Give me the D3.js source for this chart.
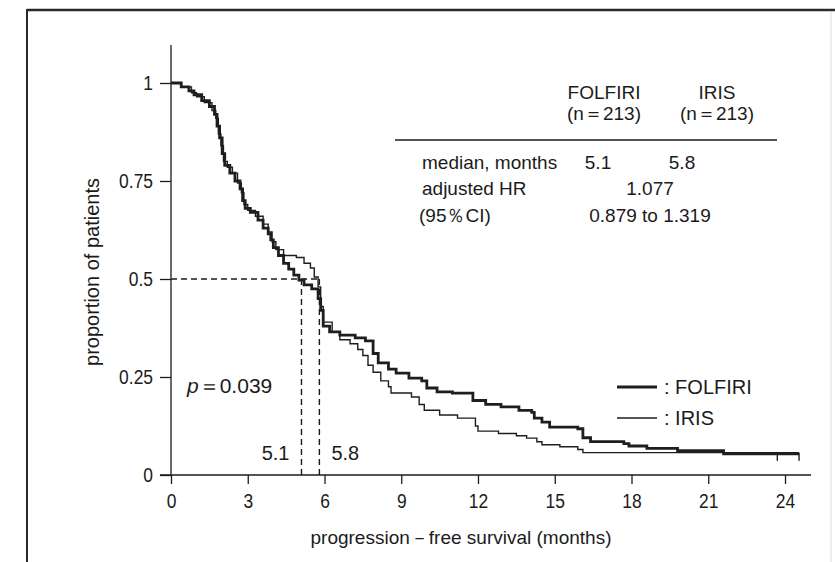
<!DOCTYPE html>
<html>
<head>
<meta charset="utf-8">
<script src="https://cdn.jsdelivr.net/npm/d3@7"></script>
<style>
  body { margin: 0; background: #fff; }
  svg { display: block; }
  text { font-family: "Liberation Sans", Arial, sans-serif; fill: #1b1b1b; }
</style>
</head>
<body>
<svg class="canvas"></svg>
<script>
// Kaplan-Meier steps (months, proportion)
const folfiriTime = [0, 0.4, 0.7, 0.9, 1.2, 1.5, 1.7, 1.8, 1.9, 2.0, 2.1, 2.3, 2.5, 2.7, 2.8, 2.9, 3.1, 3.4, 3.6, 3.8, 3.9, 4.0, 4.2, 4.4, 4.6, 4.8, 5.0, 5.2, 5.5, 5.75, 5.85, 5.95, 6.2, 6.6, 7.2, 7.6, 7.9, 8.1, 8.5, 8.8, 9.3, 9.8, 10.0, 10.4, 11.0, 11.8, 12.3, 12.9, 13.6, 14.1, 14.2, 14.5, 14.8, 15.9, 16.1, 16.4, 17.7, 17.9, 18.6, 19.8, 21.6, 24.55];
const folfiriSurv = [1, 0.99, 0.98, 0.97, 0.955, 0.94, 0.92, 0.89, 0.86, 0.82, 0.79, 0.77, 0.75, 0.73, 0.70, 0.68, 0.67, 0.65, 0.63, 0.615, 0.60, 0.58, 0.56, 0.54, 0.525, 0.51, 0.497, 0.485, 0.475, 0.45, 0.42, 0.38, 0.365, 0.357, 0.35, 0.342, 0.31, 0.286, 0.27, 0.26, 0.247, 0.24, 0.222, 0.212, 0.209, 0.19, 0.18, 0.174, 0.165, 0.16, 0.145, 0.135, 0.122, 0.118, 0.095, 0.085, 0.08, 0.074, 0.068, 0.062, 0.054, 0.054];

const irisTime = [0, 0.4, 0.8, 1.0, 1.3, 1.6, 1.75, 1.85, 1.95, 2.05, 2.2, 2.4, 2.6, 2.75, 2.85, 3.0, 3.3, 3.6, 3.8, 3.95, 4.1, 4.4, 4.9, 5.2, 5.45, 5.6, 5.75, 5.85, 5.95, 6.3, 6.6, 7.0, 7.3, 7.5, 7.7, 7.9, 8.2, 8.5, 8.6, 9.4, 9.7, 9.9, 10.5, 11.2, 11.9, 12.0, 12.8, 13.5, 13.9, 14.3, 14.5, 15.2, 15.9, 16.1, 24.55];
const irisSurv = [1, 0.99, 0.975, 0.965, 0.95, 0.93, 0.91, 0.87, 0.84, 0.80, 0.785, 0.77, 0.745, 0.72, 0.69, 0.675, 0.66, 0.64, 0.62, 0.595, 0.575, 0.56, 0.555, 0.54, 0.528, 0.505, 0.48, 0.43, 0.39, 0.365, 0.345, 0.335, 0.32, 0.305, 0.28, 0.262, 0.24, 0.225, 0.209, 0.199, 0.18, 0.165, 0.153, 0.145, 0.125, 0.112, 0.106, 0.1, 0.094, 0.085, 0.077, 0.072, 0.065, 0.057, 0.057];

const censorTimes = [23.7, 24.55];
const medians = [5.1, 5.8];
const xTicks = [0, 3, 6, 9, 12, 15, 18, 21, 24];
const yTicks = [0, 0.25, 0.5, 0.75, 1];

const w = 835;
const h = 562;
const squeeze = 0.83; // the printed digits are condensed

const svg = d3.select("svg.canvas")
    .attr("width", w)
    .attr("height", h);

// frame of the scanned figure
svg.append("line").attr("x1", 27).attr("x2", 835).attr("y1", 10).attr("y2", 10)
    .attr("stroke", "#2a2a2a").attr("stroke-width", 2.5);
svg.append("line").attr("x1", 27).attr("x2", 27).attr("y1", 9).attr("y2", 562)
    .attr("stroke", "#2a2a2a").attr("stroke-width", 2);
svg.append("line").attr("x1", 831).attr("x2", 831).attr("y1", 12).attr("y2", 562)
    .attr("stroke", "#e6e6e6").attr("stroke-width", 1.5);

const xScale = d3.scaleLinear().domain([0, 24]).range([171, 785]);
const yScale = d3.scaleLinear().domain([0, 1]).range([475, 83]);

let toPoints = (times, surv) => times.map((t, i) => [t, surv[i]]);

let condense = (sel) => {
    sel.each(function() {
        let t = d3.select(this);
        let x = +t.attr("x") || 0;
        let y = +t.attr("y") || 0;
        t.attr("x", 0).attr("y", 0)
         .attr("transform", "translate(" + x + "," + y + ") scale(" + squeeze + ",1)");
    });
}

let drawAxes = () => {
    let xAxis = d3.axisBottom(xScale)
        .tickValues(xTicks)
        .tickSize(9)
        .tickPadding(9)
        .tickFormat(d3.format("d"));
    let gx = svg.append("g")
        .attr("transform", "translate(0, 475)")
        .call(xAxis);
    gx.select(".domain").attr("d", "M160,0H811");

    let yAxis = d3.axisLeft(yScale)
        .tickValues(yTicks)
        .tickSize(11)
        .tickPadding(7)
        .tickFormat(d => String(d));
    let gy = svg.append("g")
        .attr("transform", "translate(171, 0)")
        .call(yAxis);
    gy.select(".domain").attr("d", "M0,45V475");

    svg.selectAll(".tick line, .domain").attr("stroke", "#1b1b1b").attr("stroke-width", 1.3);
    svg.selectAll(".tick text").style("font-size", "21px").attr("fill", "#1b1b1b");
    condense(svg.selectAll(".tick text"));

    svg.append("text")
        .attr("x", 461).attr("y", 544)
        .attr("text-anchor", "middle")
        .style("font-size", "19px")
        .text("progression－free  survival (months)");

    svg.append("text")
        .attr("transform", "translate(99, 272) rotate(-90)")
        .attr("text-anchor", "middle")
        .style("font-size", "20px")
        .text("proportion  of  patients");
}

let drawMedians = () => {
    svg.append("line")
        .attr("x1", xScale(0)).attr("x2", xScale(medians[1]))
        .attr("y1", yScale(0.5)).attr("y2", yScale(0.5))
        .attr("stroke", "#1b1b1b").attr("stroke-width", 1.4)
        .attr("stroke-dasharray", "6,4");
    medians.forEach(m => {
        svg.append("line")
            .attr("x1", xScale(m)).attr("x2", xScale(m))
            .attr("y1", yScale(0.5)).attr("y2", yScale(0))
            .attr("stroke", "#1b1b1b").attr("stroke-width", 1.4)
            .attr("stroke-dasharray", "6,4");
    });
    svg.append("text").attr("x", xScale(medians[0]) - 12).attr("y", 460)
        .attr("text-anchor", "end").style("font-size", "20px").text(medians[0].toFixed(1));
    svg.append("text").attr("x", xScale(medians[1]) + 12).attr("y", 460)
        .attr("text-anchor", "start").style("font-size", "20px").text(medians[1].toFixed(1));
}

let drawCurves = () => {
    let line = d3.line()
        .x(d => xScale(d[0]))
        .y(d => yScale(d[1]))
        .curve(d3.curveStepAfter);

    svg.append("path")
        .datum(toPoints(irisTime, irisSurv))
        .attr("d", line)
        .attr("fill", "none")
        .attr("stroke", "#1e1e1e")
        .attr("stroke-width", 1.4);

    svg.append("path")
        .datum(toPoints(folfiriTime, folfiriSurv))
        .attr("d", line)
        .attr("fill", "none")
        .attr("stroke", "#1e1e1e")
        .attr("stroke-width", 2.8);

    let last = folfiriSurv[folfiriSurv.length - 1];
    censorTimes.forEach(t => {
        svg.append("line")
            .attr("x1", xScale(t)).attr("x2", xScale(t))
            .attr("y1", yScale(last) - 1).attr("y2", yScale(last) + 7)
            .attr("stroke", "#1e1e1e").attr("stroke-width", 1.4);
    });
}

let drawLegend = () => {
    let lg = [
        {name: "FOLFIRI", width: 2.8, y: 387},
        {name: "IRIS", width: 1.4, y: 418}
    ];
    lg.forEach(d => {
        svg.append("line")
            .attr("x1", 617).attr("x2", 657)
            .attr("y1", d.y).attr("y2", d.y)
            .attr("stroke", "#1e1e1e").attr("stroke-width", d.width);
        svg.append("text")
            .attr("x", 664).attr("y", d.y + 7)
            .style("font-size", "20px")
            .text(": " + d.name);
    });

    // summary table
    let t = svg.append("g").style("font-size", "19px");
    t.append("text").attr("x", 604).attr("y", 99).attr("text-anchor", "middle").text("FOLFIRI");
    t.append("text").attr("x", 717).attr("y", 99).attr("text-anchor", "middle").text("IRIS");
    t.append("text").attr("x", 604).attr("y", 120).attr("text-anchor", "middle").text("(n＝213)");
    t.append("text").attr("x", 717).attr("y", 120).attr("text-anchor", "middle").text("(n＝213)");
    svg.append("line").attr("x1", 395).attr("x2", 777).attr("y1", 140).attr("y2", 140)
        .attr("stroke", "#1b1b1b").attr("stroke-width", 1.3);
    t.append("text").attr("x", 422).attr("y", 169).text("median, months");
    t.append("text").attr("x", 598).attr("y", 169).attr("text-anchor", "middle").text(medians[0].toFixed(1));
    t.append("text").attr("x", 682).attr("y", 169).attr("text-anchor", "middle").text(medians[1].toFixed(1));
    t.append("text").attr("x", 422).attr("y", 195).text("adjusted  HR");
    t.append("text").attr("x", 650).attr("y", 195).attr("text-anchor", "middle").text("1.077");
    t.append("text").attr("x", 419).attr("y", 222).text("(95％CI)");
    t.append("text").attr("x", 650).attr("y", 222).attr("text-anchor", "middle").text("0.879  to  1.319");

    let p = svg.append("text").attr("x", 187).attr("y", 393).style("font-size", "21px");
    p.append("tspan").style("font-style", "italic").text("p");
    p.append("tspan").text("＝0.039");
}

drawAxes();
drawMedians();
drawCurves();
drawLegend();
</script>
</body>
</html>
